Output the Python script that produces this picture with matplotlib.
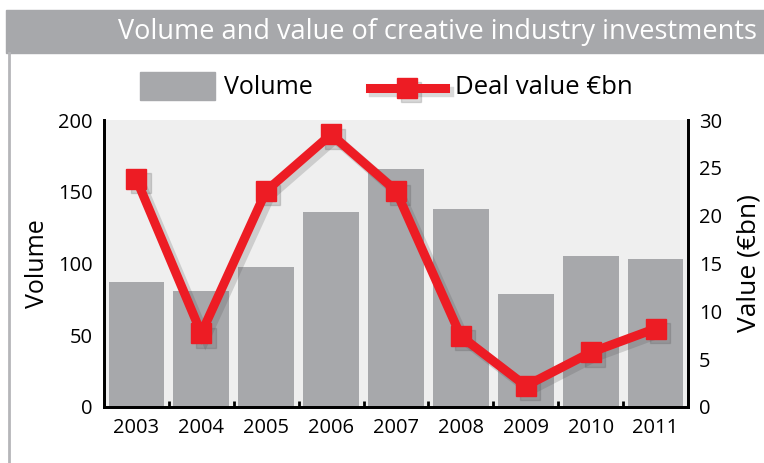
import numpy as np
import matplotlib.pyplot as plt
import matplotlib.transforms as mtransforms
from matplotlib.patches import Rectangle
from matplotlib.lines import Line2D

years = ["2003", "2004", "2005", "2006", "2007", "2008", "2009", "2010", "2011"]
volume = [87, 81, 97.5, 136, 166, 138, 79, 105, 103]
deal_value = [23.8, 7.7, 22.6, 28.5, 22.6, 7.4, 2.2, 5.7, 8.2]

BAR = "#a7a8ab"
RED = "#ed1c24"
BG = "#efefef"

plt.rcParams["font.family"] = ["Open Sans", "DejaVu Sans"]

fig = plt.figure(figsize=(7.64, 4.63), dpi=100)

# title band
fig.patches.append(Rectangle((6 / 764, 1 - 53 / 463), 1, 43 / 463,
                             transform=fig.transFigure, color="#a7a8ab", zorder=0))
fig.text(757 / 764, 1 - 32 / 463, "Volume and value of creative industry investments",
         ha="right", va="center", color="white", fontsize=19.5)
fig.add_artist(Line2D([9 / 764, 9 / 764], [0, 1 - 53 / 463], transform=fig.transFigure,
                      color="#b5b6b9", lw=2))

ax = fig.add_axes([104 / 764, 56 / 463, 584 / 764, 287 / 463])
ax.set_facecolor(BG)
x = np.arange(len(years))
ax.bar(x, volume, width=0.86, color=BAR, zorder=1)
ax.set_xlim(-0.5, len(years) - 0.5)
ax.set_ylim(0, 200)
ax.set_yticks([0, 50, 100, 150, 200])
ax.set_xticks(x)
ax.set_xticklabels(years)
ax.set_xticks(np.arange(0.5, len(years) - 1, 1), minor=True)
ax.tick_params(axis="x", which="major", length=0, labelsize=14.5, pad=8)
ax.tick_params(axis="x", which="minor", length=4, width=2, direction="in")
ax.tick_params(axis="y", length=0, labelsize=14.5, pad=8)
ax.set_ylabel("Volume", fontsize=18, labelpad=6)
for s in ["left", "bottom", "right"]:
    ax.spines[s].set_linewidth(2)
ax.spines["top"].set_visible(False)

ax2 = ax.twinx()
shadow = mtransforms.offset_copy(ax2.transData, fig=fig, x=3, y=-3, units="points")
ax2.plot(x, deal_value, color="#555555", alpha=0.22, lw=7.5, marker="s", markersize=15,
         solid_joinstyle="miter", transform=shadow, zorder=2)
ax2.plot(x, deal_value, color=RED, lw=6.5, marker="s", markersize=14,
         solid_joinstyle="miter", zorder=3)
ax2.set_ylim(0, 30)
ax2.set_yticks([0, 5, 10, 15, 20, 25, 30])
ax2.tick_params(axis="y", length=0, labelsize=14.5, pad=8)
ax2.set_ylabel("Value (\u20acbn)", fontsize=19, rotation=90, labelpad=10)
for s in ["left", "bottom", "right"]:
    ax2.spines[s].set_linewidth(2)
ax2.spines["top"].set_visible(False)

# legend
ly = 1 - 88 / 463
fig.patches.append(Rectangle((140 / 764, 1 - 100 / 463), 75 / 764, 28 / 463,
                             transform=fig.transFigure, color=BAR))
fig.text(224 / 764, ly, "Volume", fontsize=18, va="center")
lx = [370 / 764, 407 / 764, 445 / 764]
leg_shadow = mtransforms.offset_copy(fig.transFigure, fig=fig, x=3, y=-3, units="points")
fig.add_artist(Line2D(lx, [ly] * 3, transform=leg_shadow, color="#555555", alpha=0.22,
                      lw=7.5, marker="s", markersize=15, markevery=[1]))
fig.add_artist(Line2D(lx, [ly] * 3, transform=fig.transFigure, color=RED, lw=6.5,
                      marker="s", markersize=14, markevery=[1]))
fig.text(455 / 764, ly, "Deal value \u20acbn", fontsize=18.5, va="center")

fig.savefig("out.png", dpi=100)
